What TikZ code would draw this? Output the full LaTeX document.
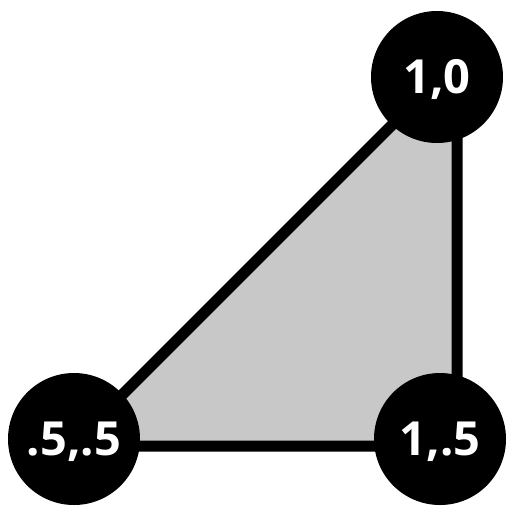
\documentclass[tikz,border=0pt]{standalone}
\usepackage{fontspec}
\newfontfamily\lblfont{Open Sans}
\definecolor{trigray}{HTML}{C8C8C8}
\tikzset{
  vtx/.style={circle, fill=black, draw=none, minimum size=132pt, inner sep=0pt,
    text=white, font=\lblfont\bfseries\fontsize{47}{47}\selectfont,
    text height=33.5pt, text depth=0pt},
  tri/.style={draw=black, fill=trigray, line width=11pt, line join=miter}
}
\begin{document}
\begin{tikzpicture}[x=1pt,y=-1pt]
\useasboundingbox (0,0) rectangle (512,512);
\coordinate (p1) at (71,446);
\coordinate (p2) at (457,446);
\coordinate (p3) at (457,60);
\draw[tri] (p1) -- (p2) -- (p3) -- cycle;
\node[vtx] (a) at (74,439) {.5,.5};
\node[vtx] (b) at (437,77) {1,0};
\node[vtx] (c) at (440,439) {1,.5};
\end{tikzpicture}
\end{document}
